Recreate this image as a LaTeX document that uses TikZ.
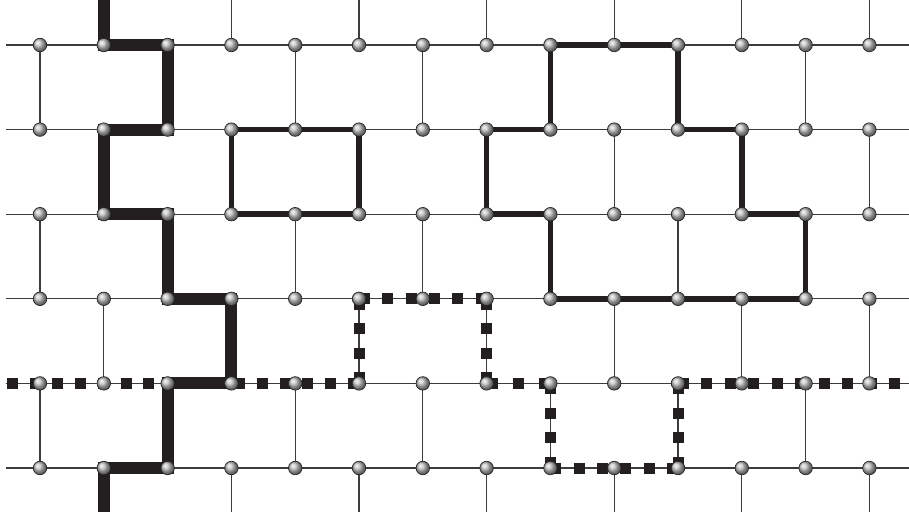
\documentclass[tikz,border=0pt]{standalone}
\usetikzlibrary{shadings}
\pgfdeclarelayer{bg}
\pgfsetlayers{bg,main}
\definecolor{inkdark}{RGB}{35,31,32}
\definecolor{thingray}{RGB}{60,60,60}
\tikzset{
  site/.style={circle, inner sep=0pt, minimum size=13.5pt, draw=black!85, line width=0.7pt, shading=ball, ball color=gray!50},
  bond/.style={draw=thingray, line width=1.2pt},
  wall/.style={draw=inkdark, line width=12pt, line join=miter, line cap=butt},
  loopline/.style={draw=inkdark, line width=5.5pt, line join=miter},
  dotrun/.style={draw=inkdark, line width=11pt, line cap=butt, dash pattern=on 11pt off #1}
}
\begin{document}
\begin{tikzpicture}[x=1pt, y=-1pt]
\useasboundingbox (0,0) rectangle (909,521);
% sites
\foreach \c in {0,...,13}{
  \foreach \r in {0,...,5}{
    \node[site] (n-\c-\r) at ({40+63.8*\c},{45+84.6*\r}) {};
  }
}
% free ends
\foreach \r in {0,...,5}{
  \coordinate (L-\r) at (6,{45+84.6*\r});
  \coordinate (R-\r) at (909,{45+84.6*\r});
}
\foreach \c in {1,3,...,13}{
  \coordinate (T-\c) at ({40+63.8*\c},0);
  \coordinate (B-\c) at ({40+63.8*\c},512);
}
\coordinate (DL) at (7,{45+84.6*4});
\coordinate (DR) at (900,{45+84.6*4});
\begin{pgfonlayer}{bg}
% horizontal bonds
\foreach \r in {0,...,5}{
  \draw[bond] (L-\r) -- (n-0-\r.center);
  \draw[bond] (n-13-\r.center) -- (R-\r);
  \foreach \c [evaluate=\c as \d using int(\c+1)] in {0,...,12}{
    \draw[bond] (n-\c-\r.center) -- (n-\d-\r.center);
  }
}
% vertical bonds
\foreach \r [evaluate=\r as \s using int(\r+1)] in {0,2,4}{
  \foreach \c in {0,2,...,12}{
    \draw[bond] (n-\c-\r.center) -- (n-\c-\s.center);
  }
}
\foreach \r [evaluate=\r as \s using int(\r+1)] in {1,3}{
  \foreach \c in {1,3,...,13}{
    \draw[bond] (n-\c-\r.center) -- (n-\c-\s.center);
  }
}
\foreach \c in {1,3,...,13}{
  \draw[bond] (T-\c) -- (n-\c-0.center);
  \draw[bond] (n-\c-5.center) -- (B-\c);
}
% thick zigzag wall
\draw[wall] (T-1) -- (n-1-0.center) -- (n-2-0.center) -- (n-2-1.center) -- (n-1-1.center)
  -- (n-1-2.center) -- (n-2-2.center) -- (n-2-3.center) -- (n-3-3.center)
  -- (n-3-4.center) -- (n-2-4.center) -- (n-2-5.center) -- (n-1-5.center) -- (B-1);
% loops
\draw[loopline] (n-3-1.center) -- (n-4-1.center) -- (n-5-1.center) -- (n-5-2.center)
  -- (n-4-2.center) -- (n-3-2.center) -- cycle;
\draw[loopline] (n-8-0.center) -- (n-9-0.center) -- (n-10-0.center) -- (n-10-1.center)
  -- (n-11-1.center) -- (n-11-2.center) -- (n-12-2.center) -- (n-12-3.center)
  -- (n-11-3.center) -- (n-10-3.center) -- (n-9-3.center) -- (n-8-3.center)
  -- (n-8-2.center) -- (n-7-2.center) -- (n-7-1.center) -- (n-8-1.center) -- cycle;
% dotted line
\draw[dotrun=11.73pt] (DL) -- (n-5-4.center);
\draw[dotrun=13.53pt] (n-5-4.center) -- (n-5-3.center);
\draw[dotrun=12.32pt] (n-5-3.center) -- (n-7-3.center);
\draw[dotrun=13.53pt] (n-7-3.center) -- (n-7-4.center);
\draw[dotrun=15.4pt] (n-7-4.center) -- (n-8-4.center);
\draw[dotrun=13.53pt] (n-8-4.center) -- (n-8-5.center);
\draw[dotrun=12.32pt] (n-8-5.center) -- (n-10-5.center);
\draw[dotrun=13.53pt] (n-10-5.center) -- (n-10-4.center);
\draw[dotrun=12.44pt] (n-10-4.center) -- (DR);
\end{pgfonlayer}
\end{tikzpicture}
\end{document}
